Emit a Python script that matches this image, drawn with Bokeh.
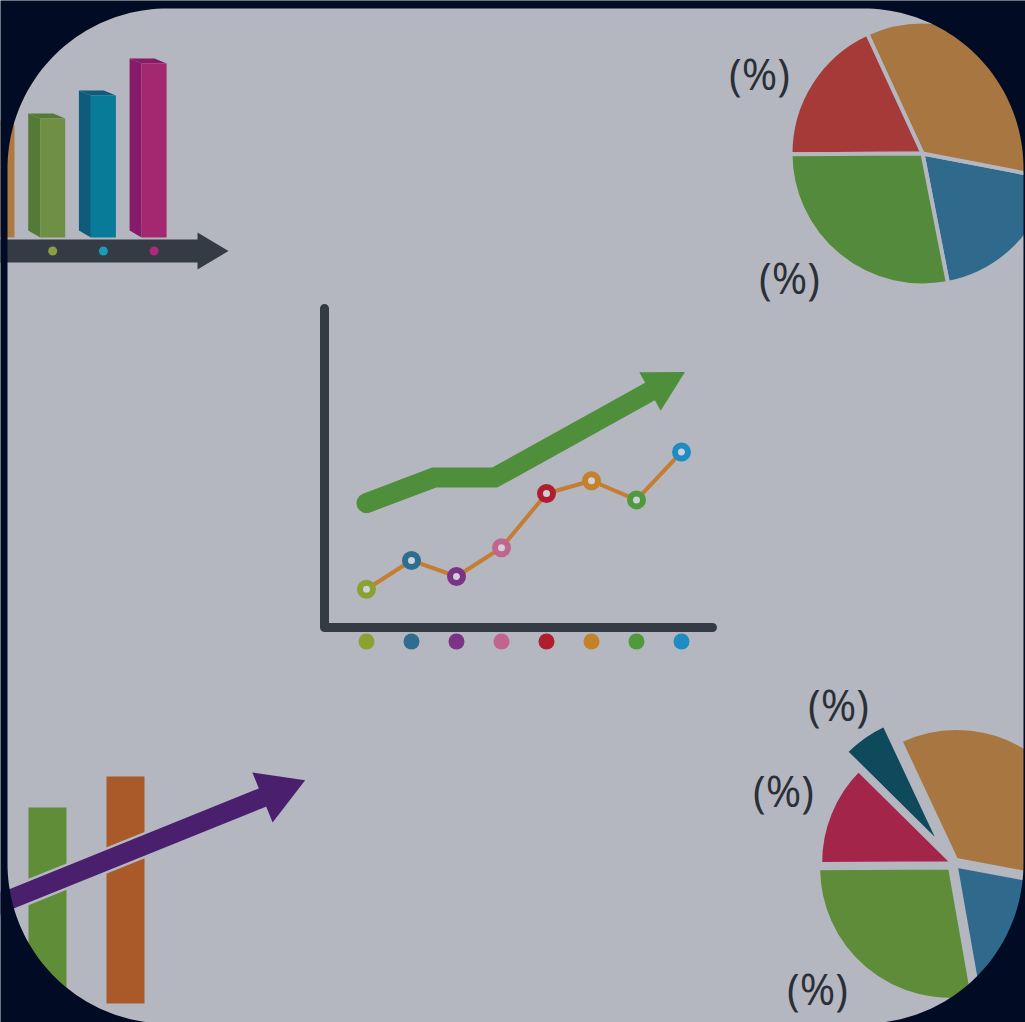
import numpy as np
from bokeh.plotting import figure
from bokeh.models import Range1d
from bokeh.core.properties import value
from bokeh.embed import file_html
from bokeh.resources import INLINE

# ---------------- data ----------------
# top-left 3D bar chart
tl_values = [112, 119, 142, 174]
tl_front = ["#ae7a42", "#6f9044", "#077b97", "#a3286f"]
tl_side = ["#8f6434", "#557a37", "#0f5b7c", "#871a69"]
tl_dot_colors = ["#8aa040", "#1a9ab5", "#b0287a"]

# central line chart (8 categories)
line_values = [12, 21, 16, 25, 42, 46, 40, 55]
cat_colors = ["#8ba232", "#2f6d90", "#7b3287", "#c2648f",
              "#b01e2e", "#c3822a", "#4e9a3c", "#1c8cc2"]
trend_pos = [0, 1.5, 2.85, 6.3]
trend_values = [39, 47, 47, 74]

# top-right pie
pie1_shares = [18.9, 34.9, 18.2, 28.0]
pie1_colors = ["#2f6a8c", "#a87741", "#a53a38", "#548a3c"]
pie1_start_deg = -78.9
pie1_labels = ["(%)", "(%)"]

# bottom-right pie
pie2_shares = [19.3, 34.9, 5.6, 12.5, 27.7]
pie2_colors = ["#2f6a8c", "#a87741", "#0e4a5c", "#a3264a", "#5f8c38"]
pie2_explode = [4, 5, 24, 2, 6]
pie2_start_deg = -80.0
pie2_labels = ["(%)", "(%)", "(%)"]

# bottom-left bars
bl_values = [196, 227]
bl_colors = ["#5f8d38", "#a95a28"]

# ---------------- layout ----------------
W, H = 1025, 1022
CARD = "#b4b7bf"
NAVY = "#020b24"
INK = "#2b2f37"
AXIS = "#343b44"
FONT = value("Open Sans")


def Y(y):
    return H - np.asarray(y, dtype=float)


p = figure(width=W, height=H, x_range=Range1d(0, W), y_range=Range1d(0, H),
           output_backend="svg", toolbar_location=None, tools="",
           x_axis_location=None, y_axis_location=None, min_border=0,
           background_fill_color=CARD, border_fill_color=NAVY,
           outline_line_color=None)
p.grid.visible = False

# ---- top-left 3D bars ----
base = 237.0
xf0, step, fw, sw = -11.0, 50.7, 25.0, 12.0
for i, h in enumerate(tl_values):
    xf = xf0 + step * i
    top = base - h
    p.patch([xf - sw, xf, xf, xf - sw], Y([top - 5, top, base, base - 7]),
            fill_color=tl_side[i], line_color=None)
    p.patch([xf - sw, xf + 13, xf + fw, xf], Y([top - 5, top - 5, top, top]),
            fill_color=tl_side[i], line_color=None)
    p.quad(left=xf, right=xf + fw, top=Y(top), bottom=Y(base),
           fill_color=tl_front[i], line_color=None)

# arrow under bars
ax_pts = [(-20, 239), (197, 239), (197, 232), (228, 250.5),
          (197, 269), (197, 262), (-20, 262)]
p.patch([a for a, b in ax_pts], Y([b for a, b in ax_pts]),
        fill_color=AXIS, line_color=None)
dot_x = [xf0 + step * i + fw / 2 for i in range(1, 4)]
p.scatter(dot_x, Y([250.5] * 3), size=9, fill_color=tl_dot_colors, line_color=None)

# ---- top-right pie ----
def pie(cx, cy, r, shares, colors, start_deg, explode, lw):
    tot = float(sum(shares))
    a = np.radians(start_deg)
    xs, ys, st, en = [], [], [], []
    for s, d in zip(shares, explode):
        span = s / tot * 2 * np.pi
        mid = a + span / 2
        xs.append(cx + d * np.cos(mid))
        ys.append(H - cy + d * np.sin(mid))
        st.append(a)
        en.append(a + span)
        a += span
    p.wedge(x=xs, y=ys, radius=r, start_angle=st, end_angle=en,
            fill_color=colors, line_color=CARD, line_width=lw)

pie(922, 153, 132, pie1_shares, pie1_colors, pie1_start_deg, [0] * 4, 4)
p.text(x=[759, 789], y=Y([73, 277]), text=pie1_labels, text_font=FONT,
       text_font_size="43px", text_color=INK, text_align="center",
       text_baseline="middle")

# ---- central line chart ----
def CX(i):
    return 366 + 45 * np.asarray(i, dtype=float)

def CV(v):
    return 627 - 3.19 * np.asarray(v, dtype=float)

p.line([324, 324, 712], Y([308, 627, 627]), line_width=9, line_color=AXIS,
       line_cap="round", line_join="round")
p.scatter(CX(range(8)), Y([641] * 8), size=16, fill_color=cat_colors, line_color=None)

# trend arrow
tx, ty = CX(trend_pos), CV(trend_values)
p.line(tx, Y(ty), line_width=20, line_color="#4f8e3a", line_cap="round",
       line_join="miter")
d = np.array([tx[-1] - tx[-2], ty[-1] - ty[-2]])
d = d / np.hypot(*d)
n = np.array([-d[1], d[0]])
b = np.array([tx[-1], ty[-1]])
tip = b + d * 40
c1, c2 = b + n * 22, b - n * 22
p.patch([c1[0], tip[0], c2[0]], Y([c1[1], tip[1], c2[1]]),
        fill_color="#4f8e3a", line_color=None)

# data line with rings
p.line(CX(range(8)), Y(CV(line_values)), line_width=4, line_color="#c47d32")
p.scatter(CX(range(8)), Y(CV(line_values)), size=13, fill_color="#cdd0d6",
          line_color=cat_colors, line_width=6)

# ---- bottom-left bars with purple arrow ----
bl_left = [28, 106]
for i, h in enumerate(bl_values):
    p.quad(left=bl_left[i], right=bl_left[i] + 38, top=Y(1003 - h), bottom=Y(1003),
           fill_color=bl_colors[i], line_color=None)

ang = np.radians(22.0)
dv = np.array([np.cos(ang), -np.sin(ang)])
nv = np.array([np.sin(ang), np.cos(ang)])
bm = np.array([262.0, 797.0])
st_pt = bm - dv * 310
en_pt = bm + dv * 3
shaft = [st_pt + nv * 11, en_pt + nv * 11, en_pt - nv * 11, st_pt - nv * 11]
p.patch([q[0] for q in shaft], Y([q[1] for q in shaft]), fill_color="#4a1f6e",
        line_color=CARD, line_width=2.5)
ptip = bm + dv * 46
h1, h2 = bm + nv * 27, bm - nv * 27
p.patch([h1[0], ptip[0], h2[0]], Y([h1[1], ptip[1], h2[1]]),
        fill_color="#4a1f6e", line_color=None)

# ---- bottom-right pie ----
pie(953, 863, 131, pie2_shares, pie2_colors, pie2_start_deg, pie2_explode, 3)
p.text(x=[838, 783, 817], y=Y([704, 790, 988]), text=pie2_labels, text_font=FONT,
       text_font_size="43px", text_color=INK, text_align="center",
       text_baseline="middle")

# ---- rounded card mask ----
def rrect(x0, y0, x1, y1, r, n=48):
    xs, ys = [], []
    for cx, cy, a0 in [(x1 - r, y0 + r, -90), (x1 - r, y1 - r, 0),
                       (x0 + r, y1 - r, 90), (x0 + r, y0 + r, 180)]:
        a = np.radians(np.linspace(a0, a0 + 90, n))
        xs += list(cx + r * np.cos(a))
        ys += list(cy + r * np.sin(a))
    return xs, ys

hx, hy = rrect(7, 8, 1023, 1023, 160)
hx, hy = hx[::-1], hy[::-1]
ox = [-50, 1075, 1075, -50]
oy = [-50, -50, 1075, 1075]
p.multi_polygons(xs=[[[ox, hx]]], ys=[[[list(Y(oy)), list(Y(hy))]]],
                 fill_color=NAVY, line_color=None)

open("out.html", "w").write(file_html(p, INLINE))
